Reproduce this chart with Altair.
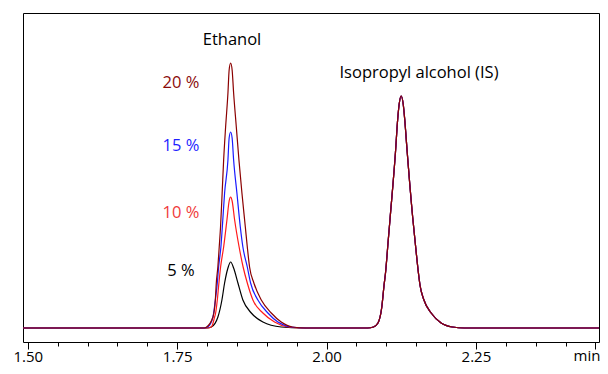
import altair as alt
import pandas as pd

# ---- data (time in min, detector signal in arbitrary units) ----
series_names = ["5 %", "10 %", "15 %", "20 %"]
series_colors = ["#000000", "#ff1a1a", "#1a1aff", "#8b0000"]
label_colors = ["#000000", "#f03a3a", "#1f1fff", "#8b0a0a"]

t_start = 1.492
t_end = 2.456

# Ethanol peak, one trace per concentration
t_5 = [1.8000, 1.8072, 1.8182, 1.8249, 1.8294, 1.8350, 1.8395, 1.8445, 1.8517, 1.8600, 1.8741, 1.8935, 1.9242, 1.9600]
h_5 = [0, 1, 11, 28, 45, 60, 66, 60, 45, 28, 15, 6, 1, 0]

t_10 = [1.8000, 1.8072, 1.8127, 1.8144, 1.8172, 1.8199, 1.8227, 1.8278, 1.8333, 1.8370, 1.8395, 1.8420, 1.8462,
        1.8537, 1.8604, 1.8674, 1.8768, 1.8935, 1.9130, 1.9353, 1.9600]
h_10 = [0, 1, 11, 15, 28, 45, 61, 81, 108, 127, 131, 127, 108, 81, 61, 45, 28, 15, 6, 1, 0]

t_15 = [1.7950, 1.8010, 1.8099, 1.8139, 1.8172, 1.8194, 1.8232, 1.8256, 1.8294, 1.8350, 1.8370, 1.8395, 1.8420,
        1.8445, 1.8500, 1.8557, 1.8600, 1.8674, 1.8729, 1.8851, 1.9018, 1.9186, 1.9410, 1.9650]
h_15 = [0, 1, 11, 28, 45, 61, 81, 101, 135, 168, 190, 196, 190, 168, 135, 101, 81, 61, 45, 28, 15, 6, 1, 0]

t_20 = [1.7950, 1.7993, 1.8099, 1.8139, 1.8155, 1.8181, 1.8204, 1.8226, 1.8253, 1.8278, 1.8311, 1.8350, 1.8370,
        1.8395, 1.8420, 1.8445, 1.8490, 1.8534, 1.8584, 1.8641, 1.8674, 1.8712, 1.8784, 1.8908, 1.9075, 1.9242,
        1.9431, 1.9650]
h_20 = [0, 1, 11, 28, 45, 61, 81, 101, 135, 168, 201, 235, 258, 265, 258, 235, 201, 168, 135, 101, 81, 61, 45,
        28, 15, 6, 1, 0]

# Isopropyl alcohol (internal standard) peak, common to all traces
t_is = [2.0686, 2.0786, 2.0861, 2.0925, 2.0963, 2.0987, 2.1033, 2.1064, 2.1154, 2.1191, 2.1216, 2.1249, 2.1283,
        2.1308, 2.1350, 2.1443, 2.1480, 2.1538, 2.1564, 2.1630, 2.1751, 2.1918, 2.2107, 2.2308]
h_is = [0, 1, 5, 21, 43, 55, 88, 110, 176, 209, 224, 232, 224, 209, 176, 110, 88, 55, 43, 28, 15, 5, 1, 0]

ethanol_t = [t_5, t_10, t_15, t_20]
ethanol_h = [h_5, h_10, h_15, h_20]

tick_values = [round(1.50 + 0.05 * i, 2) for i in range(20)]
unit_label = "min"

rows = []
for name, ts, hs in zip(series_names, ethanol_t, ethanol_h):
    pts = [(t_start, 0)] + list(zip(ts, hs)) + list(zip(t_is, h_is)) + [(t_end, 0)]
    for i, (t, h) in enumerate(pts):
        rows.append({"series": name, "time": t, "signal": h, "order": i})
df = pd.DataFrame(rows)

major_test = "abs(datum.value*4 - round(datum.value*4)) < 0.001 || datum.value > 2.44"

x_scale = alt.Scale(domain=[t_start, t_end], nice=False, zero=False)
y_scale = alt.Scale(domain=[-14, 315], nice=False, zero=False)

lines = alt.Chart(df).mark_line(strokeWidth=1.2, interpolate="monotone", clip=True).encode(
    x=alt.X("time:Q", scale=x_scale,
            axis=alt.Axis(values=tick_values, title=None, domain=False, grid=False,
                          tickColor="black", tickWidth=1,
                          tickSize={"condition": {"test": major_test, "value": 7}, "value": 4},
                          labelExpr="datum.value > 2.44 ? '' : (abs(datum.value*4 - round(datum.value*4)) < 0.001 ? format(datum.value, '.2f') : '')",
                          labelFont="Open Sans", labelFontSize=15, labelColor="black",
                          labelBaseline="alphabetic",
                          labelPadding=12, labelOverlap=False, labelFlush=False)),
    y=alt.Y("signal:Q", scale=y_scale, axis=None),
    color=alt.Color("series:N", scale=alt.Scale(domain=series_names, range=series_colors), legend=None),
    order="order:Q",
)

text_font = dict(font="Open Sans", fontSize=16.5, baseline="middle")

ethanol_lbl = alt.Chart(pd.DataFrame({"t": ["Ethanol"]})).mark_text(align="center", color="black", **text_font).encode(
    text="t:N", x=alt.value(209), y=alt.value(27))
is_lbl = alt.Chart(pd.DataFrame({"t": ["Isopropyl alcohol (IS)"]})).mark_text(align="center", color="black", **text_font).encode(
    text="t:N", x=alt.value(396), y=alt.value(60))
unit_lbl = alt.Chart(pd.DataFrame({"t": [unit_label]})).mark_text(
    align="center", baseline="alphabetic", color="black", font="Open Sans", fontSize=15).encode(
    text="t:N", x=alt.value(564), y=alt.value(348))

pct_y = [258, 200, 133, 70]
pct_layers = []
for name, col, yy in zip(series_names, label_colors, pct_y):
    pct_layers.append(
        alt.Chart(pd.DataFrame({"t": [name]})).mark_text(align="center", color=col, **text_font).encode(
            text="t:N", x=alt.value(158), y=alt.value(yy)))

chart = alt.layer(lines, ethanol_lbl, is_lbl, unit_lbl, *pct_layers).properties(
    width=576, height=329,
    autosize=alt.AutoSizeParams(type="none"),
    padding={"left": 15, "top": 5, "right": 1, "bottom": 24},
).configure_view(stroke="black", strokeWidth=1)

chart.save("out.html", embed_options={"renderer": "svg", "actions": False})
